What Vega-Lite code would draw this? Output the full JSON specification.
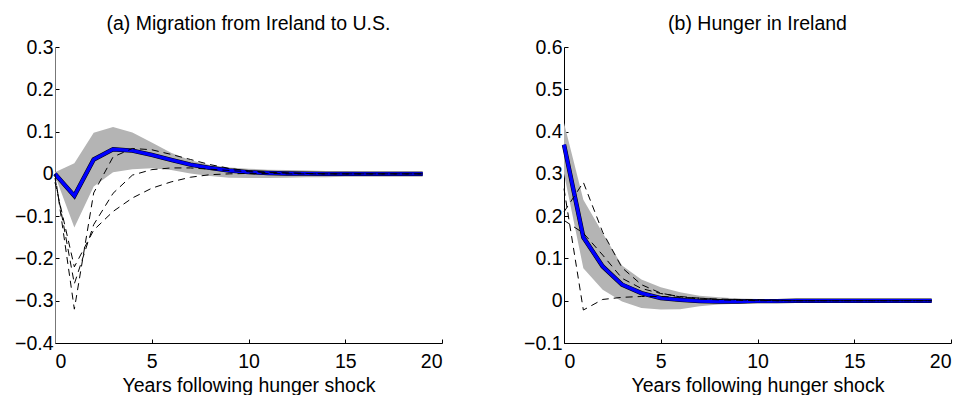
{
  "$schema": "https://vega.github.io/schema/vega-lite/v6.json",
  "background": "white",
  "padding": {"left": 14, "top": 13, "right": 0, "bottom": 0},
  "spacing": 122,
  "bounds": "flush",
  "config": {
    "view": {"stroke": null},
    "font": "Liberation Sans",
    "title": {"fontSize": 19.5, "fontWeight": "normal", "color": "black", "anchor": "middle", "offset": 3},
    "axis": {
      "labelFont": "Liberation Sans",
      "titleFont": "Liberation Sans",
      "labelFontSize": 19.5,
      "titleFontSize": 19.5,
      "titleFontWeight": "normal",
      "labelColor": "black",
      "titleColor": "black",
      "domainColor": "black",
      "tickColor": "black",
      "tickSize": -4,
      "grid": false,
      "labelPadding": 6
    },
    "axisX": {"labelPadding": 13, "titlePadding": 6}
  },
  "datasets": {
    "irf_a": [
      {"year": 0, "est": 0.0, "lo": -0.004, "hi": 0.004},
      {"year": 1, "est": -0.052, "lo": -0.127, "hi": 0.025},
      {"year": 2, "est": 0.034, "lo": -0.03, "hi": 0.097},
      {"year": 3, "est": 0.058, "lo": 0.004, "hi": 0.111},
      {"year": 4, "est": 0.055, "lo": 0.011, "hi": 0.098},
      {"year": 5, "est": 0.045, "lo": 0.013, "hi": 0.074},
      {"year": 6, "est": 0.033, "lo": 0.009, "hi": 0.05},
      {"year": 7, "est": 0.022, "lo": 0.001, "hi": 0.032},
      {"year": 8, "est": 0.014, "lo": -0.005, "hi": 0.021},
      {"year": 9, "est": 0.008, "lo": -0.009, "hi": 0.015},
      {"year": 10, "est": 0.004, "lo": -0.01, "hi": 0.012},
      {"year": 11, "est": 0.002, "lo": -0.01, "hi": 0.01},
      {"year": 12, "est": 0.001, "lo": -0.009, "hi": 0.009},
      {"year": 13, "est": 0.0005, "lo": -0.008, "hi": 0.008},
      {"year": 14, "est": 0.0, "lo": -0.008, "hi": 0.007},
      {"year": 15, "est": 0.0, "lo": -0.007, "hi": 0.007},
      {"year": 16, "est": 0.0, "lo": -0.007, "hi": 0.006},
      {"year": 17, "est": 0.0, "lo": -0.007, "hi": 0.006},
      {"year": 18, "est": 0.0, "lo": -0.007, "hi": 0.006},
      {"year": 19, "est": 0.0, "lo": -0.007, "hi": 0.006}
    ],
    "draws_a": [
      {"draw": 1, "year": 0, "value": 0.0}, {"draw": 1, "year": 1, "value": -0.32}, {"draw": 1, "year": 2, "value": -0.045},
      {"draw": 1, "year": 3, "value": 0.04}, {"draw": 1, "year": 4, "value": 0.06}, {"draw": 1, "year": 5, "value": 0.057},
      {"draw": 1, "year": 6, "value": 0.046}, {"draw": 1, "year": 7, "value": 0.034}, {"draw": 1, "year": 8, "value": 0.022},
      {"draw": 1, "year": 9, "value": 0.013}, {"draw": 1, "year": 10, "value": 0.007}, {"draw": 1, "year": 11, "value": 0.004},
      {"draw": 1, "year": 12, "value": 0.002}, {"draw": 1, "year": 13, "value": 0.001}, {"draw": 1, "year": 14, "value": 0.0},
      {"draw": 1, "year": 15, "value": 0.0}, {"draw": 1, "year": 16, "value": 0.0}, {"draw": 1, "year": 17, "value": 0.0},
      {"draw": 1, "year": 18, "value": 0.0}, {"draw": 1, "year": 19, "value": 0.0},
      {"draw": 2, "year": 0, "value": -0.01}, {"draw": 2, "year": 1, "value": -0.26}, {"draw": 2, "year": 2, "value": -0.12},
      {"draw": 2, "year": 3, "value": -0.046}, {"draw": 2, "year": 4, "value": -0.003}, {"draw": 2, "year": 5, "value": 0.01},
      {"draw": 2, "year": 6, "value": 0.014}, {"draw": 2, "year": 7, "value": 0.014}, {"draw": 2, "year": 8, "value": 0.011},
      {"draw": 2, "year": 9, "value": 0.008}, {"draw": 2, "year": 10, "value": 0.005}, {"draw": 2, "year": 11, "value": 0.003},
      {"draw": 2, "year": 12, "value": 0.002}, {"draw": 2, "year": 13, "value": 0.001}, {"draw": 2, "year": 14, "value": 0.0},
      {"draw": 2, "year": 15, "value": 0.0}, {"draw": 2, "year": 16, "value": 0.0}, {"draw": 2, "year": 17, "value": 0.0},
      {"draw": 2, "year": 18, "value": 0.0}, {"draw": 2, "year": 19, "value": 0.0},
      {"draw": 3, "year": 0, "value": -0.02}, {"draw": 3, "year": 1, "value": -0.22}, {"draw": 3, "year": 2, "value": -0.133},
      {"draw": 3, "year": 3, "value": -0.089}, {"draw": 3, "year": 4, "value": -0.057}, {"draw": 3, "year": 5, "value": -0.034},
      {"draw": 3, "year": 6, "value": -0.019}, {"draw": 3, "year": 7, "value": -0.008}, {"draw": 3, "year": 8, "value": -0.002},
      {"draw": 3, "year": 9, "value": 0.0}, {"draw": 3, "year": 10, "value": 0.001}, {"draw": 3, "year": 11, "value": 0.001},
      {"draw": 3, "year": 12, "value": 0.0}, {"draw": 3, "year": 13, "value": 0.0}, {"draw": 3, "year": 14, "value": 0.0},
      {"draw": 3, "year": 15, "value": 0.0}, {"draw": 3, "year": 16, "value": 0.0}, {"draw": 3, "year": 17, "value": 0.0},
      {"draw": 3, "year": 18, "value": 0.0}, {"draw": 3, "year": 19, "value": 0.0}
    ],
    "irf_b": [
      {"year": 0, "est": 0.369, "lo": 0.3, "hi": 0.42},
      {"year": 1, "est": 0.15, "lo": 0.077, "hi": 0.239},
      {"year": 2, "est": 0.081, "lo": 0.026, "hi": 0.16},
      {"year": 3, "est": 0.038, "lo": -0.002, "hi": 0.083},
      {"year": 4, "est": 0.018, "lo": -0.017, "hi": 0.05},
      {"year": 5, "est": 0.006, "lo": -0.021, "hi": 0.032},
      {"year": 6, "est": 0.002, "lo": -0.02, "hi": 0.02},
      {"year": 7, "est": -0.001, "lo": -0.013, "hi": 0.012},
      {"year": 8, "est": -0.002, "lo": -0.009, "hi": 0.008},
      {"year": 9, "est": -0.002, "lo": -0.007, "hi": 0.005},
      {"year": 10, "est": -0.001, "lo": -0.005, "hi": 0.004},
      {"year": 11, "est": -0.001, "lo": -0.004, "hi": 0.003},
      {"year": 12, "est": 0.0, "lo": -0.004, "hi": 0.003},
      {"year": 13, "est": 0.0, "lo": -0.003, "hi": 0.003},
      {"year": 14, "est": 0.0, "lo": -0.003, "hi": 0.003},
      {"year": 15, "est": 0.0, "lo": -0.003, "hi": 0.003},
      {"year": 16, "est": 0.0, "lo": -0.003, "hi": 0.003},
      {"year": 17, "est": 0.0, "lo": -0.003, "hi": 0.003},
      {"year": 18, "est": 0.0, "lo": -0.003, "hi": 0.003},
      {"year": 19, "est": 0.0, "lo": -0.003, "hi": 0.003}
    ],
    "draws_b": [
      {"draw": 1, "year": 0, "value": 0.21}, {"draw": 1, "year": 1, "value": 0.28}, {"draw": 1, "year": 2, "value": 0.162},
      {"draw": 1, "year": 3, "value": 0.078}, {"draw": 1, "year": 4, "value": 0.038}, {"draw": 1, "year": 5, "value": 0.018},
      {"draw": 1, "year": 6, "value": 0.009}, {"draw": 1, "year": 7, "value": 0.004}, {"draw": 1, "year": 8, "value": 0.002},
      {"draw": 1, "year": 9, "value": 0.001}, {"draw": 1, "year": 10, "value": 0.0}, {"draw": 1, "year": 11, "value": 0.0},
      {"draw": 1, "year": 12, "value": 0.0}, {"draw": 1, "year": 13, "value": 0.0}, {"draw": 1, "year": 14, "value": 0.0},
      {"draw": 1, "year": 15, "value": 0.0}, {"draw": 1, "year": 16, "value": 0.0}, {"draw": 1, "year": 17, "value": 0.0},
      {"draw": 1, "year": 18, "value": 0.0}, {"draw": 1, "year": 19, "value": 0.0},
      {"draw": 2, "year": 0, "value": 0.265}, {"draw": 2, "year": 1, "value": -0.022}, {"draw": 2, "year": 2, "value": 0.003},
      {"draw": 2, "year": 3, "value": 0.008}, {"draw": 2, "year": 4, "value": 0.01}, {"draw": 2, "year": 5, "value": 0.01},
      {"draw": 2, "year": 6, "value": 0.008}, {"draw": 2, "year": 7, "value": 0.006}, {"draw": 2, "year": 8, "value": 0.004},
      {"draw": 2, "year": 9, "value": 0.003}, {"draw": 2, "year": 10, "value": 0.002}, {"draw": 2, "year": 11, "value": 0.001},
      {"draw": 2, "year": 12, "value": 0.0}, {"draw": 2, "year": 13, "value": 0.0}, {"draw": 2, "year": 14, "value": 0.0},
      {"draw": 2, "year": 15, "value": 0.0}, {"draw": 2, "year": 16, "value": 0.0}, {"draw": 2, "year": 17, "value": 0.0},
      {"draw": 2, "year": 18, "value": 0.0}, {"draw": 2, "year": 19, "value": 0.0},
      {"draw": 3, "year": 0, "value": 0.19}, {"draw": 3, "year": 1, "value": 0.16}, {"draw": 3, "year": 2, "value": 0.108},
      {"draw": 3, "year": 3, "value": 0.053}, {"draw": 3, "year": 4, "value": 0.029}, {"draw": 3, "year": 5, "value": 0.017},
      {"draw": 3, "year": 6, "value": 0.01}, {"draw": 3, "year": 7, "value": 0.006}, {"draw": 3, "year": 8, "value": 0.003},
      {"draw": 3, "year": 9, "value": 0.002}, {"draw": 3, "year": 10, "value": 0.001}, {"draw": 3, "year": 11, "value": 0.0},
      {"draw": 3, "year": 12, "value": 0.0}, {"draw": 3, "year": 13, "value": 0.0}, {"draw": 3, "year": 14, "value": 0.0},
      {"draw": 3, "year": 15, "value": 0.0}, {"draw": 3, "year": 16, "value": 0.0}, {"draw": 3, "year": 17, "value": 0.0},
      {"draw": 3, "year": 18, "value": 0.0}, {"draw": 3, "year": 19, "value": 0.0}
    ]
  },
  "hconcat": [
    {
      "title": "(a) Migration from Ireland to U.S.",
      "width": 387,
      "height": 296,
      "layer": [
        {
          "data": {"name": "irf_a"},
          "mark": {"type": "area", "color": "#b4b4b4", "opacity": 1},
          "encoding": {
            "x": {"field": "year", "type": "quantitative", "scale": {"domain": [0, 20], "nice": false},
                  "axis": {"title": "Years following hunger shock", "values": [0, 5, 10, 15, 20], "format": "d"}},
            "y": {"field": "lo", "type": "quantitative", "scale": {"domain": [-0.4, 0.3], "nice": false, "zero": false},
                  "axis": {"title": null, "domainColor": "#777777", "values": [-0.4, -0.3, -0.2, -0.1, 0, 0.1, 0.2, 0.3],
                           "labelExpr": "abs(datum.value) < 1e-9 ? '0' : replace(format(datum.value, '.1f'), '-', '−')"}},
            "y2": {"field": "hi"}
          }
        },
        {
          "data": {"name": "irf_a"},
          "mark": {"type": "line", "color": "black", "strokeWidth": 4.4},
          "encoding": {"x": {"field": "year", "type": "quantitative"}, "y": {"field": "est", "type": "quantitative"}}
        },
        {
          "data": {"name": "irf_a"},
          "mark": {"type": "line", "color": "#0000ff", "strokeWidth": 3.4},
          "encoding": {"x": {"field": "year", "type": "quantitative"}, "y": {"field": "est", "type": "quantitative"}}
        },
        {
          "data": {"name": "draws_a"},
          "mark": {"type": "line", "color": "black", "strokeWidth": 1, "strokeDash": [7, 5]},
          "encoding": {
            "x": {"field": "year", "type": "quantitative"},
            "y": {"field": "value", "type": "quantitative"},
            "detail": {"field": "draw", "type": "nominal"}
          }
        }
      ]
    },
    {
      "title": "(b) Hunger in Ireland",
      "width": 387,
      "height": 296,
      "layer": [
        {
          "data": {"name": "irf_b"},
          "mark": {"type": "area", "color": "#b4b4b4", "opacity": 1},
          "encoding": {
            "x": {"field": "year", "type": "quantitative", "scale": {"domain": [0, 20], "nice": false},
                  "axis": {"title": "Years following hunger shock", "values": [0, 5, 10, 15, 20], "format": "d"}},
            "y": {"field": "lo", "type": "quantitative", "scale": {"domain": [-0.1, 0.6], "nice": false, "zero": false},
                  "axis": {"title": null, "values": [-0.1, 0, 0.1, 0.2, 0.3, 0.4, 0.5, 0.6],
                           "labelExpr": "abs(datum.value) < 1e-9 ? '0' : replace(format(datum.value, '.1f'), '-', '−')"}},
            "y2": {"field": "hi"}
          }
        },
        {
          "data": {"name": "irf_b"},
          "mark": {"type": "line", "color": "black", "strokeWidth": 4.4},
          "encoding": {"x": {"field": "year", "type": "quantitative"}, "y": {"field": "est", "type": "quantitative"}}
        },
        {
          "data": {"name": "irf_b"},
          "mark": {"type": "line", "color": "#0000ff", "strokeWidth": 3.4},
          "encoding": {"x": {"field": "year", "type": "quantitative"}, "y": {"field": "est", "type": "quantitative"}}
        },
        {
          "data": {"name": "draws_b"},
          "mark": {"type": "line", "color": "black", "strokeWidth": 1, "strokeDash": [7, 5]},
          "encoding": {
            "x": {"field": "year", "type": "quantitative"},
            "y": {"field": "value", "type": "quantitative"},
            "detail": {"field": "draw", "type": "nominal"}
          }
        }
      ]
    }
  ]
}
